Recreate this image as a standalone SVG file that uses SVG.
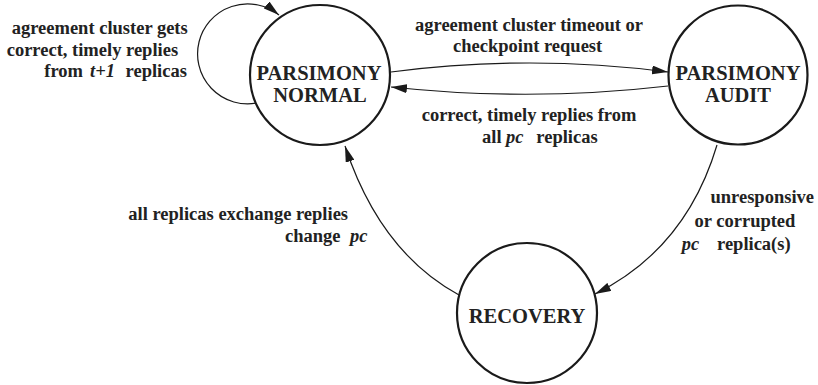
<svg xmlns="http://www.w3.org/2000/svg" width="818" height="385" viewBox="0 0 818 385">
<style>
.node{fill:#fff;stroke:#1a1a1a;stroke-width:2.2}
.ntext{font-family:"Liberation Serif","Times New Roman",serif;font-weight:bold;font-size:20.5px;fill:#222;text-anchor:middle}
.lbl{font-family:"Liberation Serif","Times New Roman",serif;font-weight:bold;font-size:18.5px;fill:#222}
.it{font-style:italic}
.edge{fill:none;stroke:#1a1a1a;stroke-width:1.2;marker-end:url(#arr)}
</style>
<defs>
<marker id="arr" viewBox="0 0 16 9" refX="16" refY="4.5" markerWidth="16" markerHeight="9" markerUnits="userSpaceOnUse" orient="auto">
<path d="M0,0 L16,4.5 L0,9 Z" fill="#1a1a1a"/>
</marker>
</defs>
<g id="connectors">
<path class="edge" d="M257,103 A50,50 0 1 1 279,15"/>
<path class="edge" d="M391,72 Q530,54 668,72"/>
<path class="edge" d="M668,86 Q530,102 391,87"/>
<path class="edge" d="M717,145 Q686,249 595,294"/>
<path class="edge" d="M459,295 Q380,252 345,146"/>
</g>
<g id="labels">
<text class="lbl"><tspan x="11.7" y="34">agreement cluster gets</tspan><tspan x="6.7" y="55.5">correct, timely replies</tspan><tspan x="44.3" y="77">from</tspan><tspan class="it" x="90" y="77">t+1</tspan><tspan x="125.6" y="77">replicas</tspan></text>
<text class="lbl"><tspan x="415" y="30.5">agreement cluster timeout or</tspan><tspan x="453" y="52">checkpoint request</tspan></text>
<text class="lbl"><tspan x="421.7" y="121">correct, timely replies from</tspan><tspan x="482" y="143">all</tspan><tspan class="it" x="506" y="143">pc</tspan><tspan x="536.3" y="143">replicas</tspan></text>
<text class="lbl"><tspan x="128.3" y="220">all replicas exchange replies</tspan><tspan x="285" y="242">change</tspan><tspan class="it" x="350" y="242">pc</tspan></text>
<text class="lbl"><tspan x="710.5" y="203">unresponsive</tspan><tspan x="694.5" y="226.5">or corrupted</tspan><tspan class="it" x="681.7" y="249.5">pc</tspan><tspan x="717" y="249.5">replica(s)</tspan></text>
</g>
<g id="node-normal">
<circle class="node" cx="320" cy="75" r="70"/>
<text class="ntext"><tspan x="319" y="80">PARSIMONY</tspan><tspan x="320" y="102">NORMAL</tspan></text>
</g>
<g id="node-audit">
<circle class="node" cx="738" cy="75" r="69.5"/>
<text class="ntext"><tspan x="738" y="80">PARSIMONY</tspan><tspan x="738" y="102">AUDIT</tspan></text>
</g>
<g id="node-recovery">
<circle class="node" cx="527" cy="313" r="70"/>
<text class="ntext"><tspan x="527" y="322.5">RECOVERY</tspan></text>
</g>
</svg>
